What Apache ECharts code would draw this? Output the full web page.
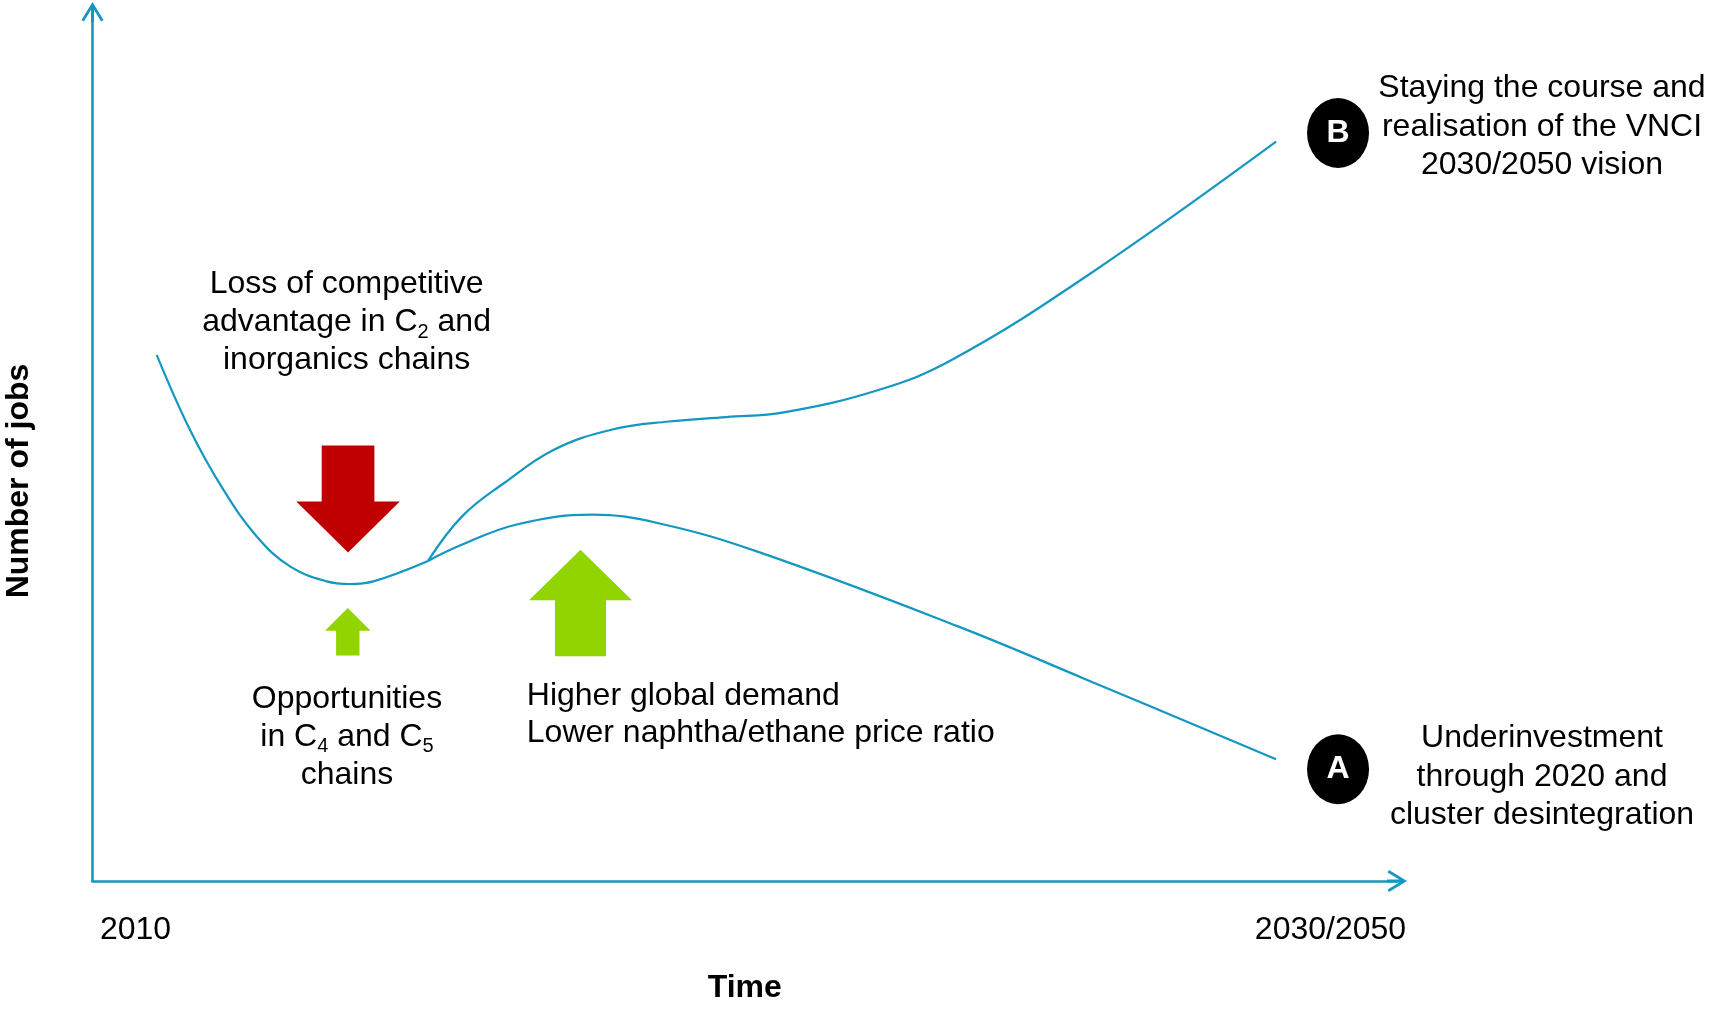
<!DOCTYPE html>
<html>
<head>
<meta charset="utf-8">
<script src="https://cdn.jsdelivr.net/npm/echarts@6/dist/echarts.min.js"></script>
<style>
html,body{margin:0;padding:0;background:#fff;}
#chart{width:1709px;height:1009px;}
</style>
</head>
<body>
<div id="chart"></div>
<script>
// ---- data (time on 0..100 scale, jobs on 0..100 scale) ----
const declinePoints = [
  [4.92, 60.55], [7.47, 51.93], [10.03, 45.03], [12.59, 39.65], [15.14, 36.20],
  [17.95, 34.48], [19.74, 34.18], [21.53, 34.48], [25.72, 36.83]
];
const scenarioA = [
  [25.72, 36.83], [28.04, 38.51], [32.44, 41.00], [38.31, 42.15], [43.30, 41.20],
  [50.92, 37.93], [66.30, 29.33], [76.16, 23.20], [90.73, 14.00]
];
const scenarioB = [
  [25.72, 36.83], [28.33, 41.96], [31.56, 45.80], [35.37, 49.63], [39.77, 51.93],
  [44.18, 52.88], [48.58, 53.39], [52.98, 53.92], [60.31, 56.53],
  [65.89, 59.98], [76.16, 69.56], [90.73, 85.08]
];
const tickValues = [3.30, 94.9];
const tickLabels = ['2010', '2030/2050'];
const arrowDownRed = [[19.59, 43.97]];
const arrowUpSmall = [[19.57, 28.69]];
const arrowUpLarge = [[37.41, 31.99]];
const scenarioMarkers = [[95.48, 86.08, 'B'], [95.48, 12.86, 'A']];

const BLUE = '#1497c1';
const FONT = "'Liberation Sans', Arial, sans-serif";
const chevron = 'path://M11,0 L22,18 L19.6,19.4 L12.5,7.7 L12.5,20 L9.5,20 L9.5,7.7 L2.4,19.4 L0,18 Z';

const chart = echarts.init(document.getElementById('chart'), null, {renderer: 'canvas'});

const rich = {
  n: {fontSize: 32, lineHeight: 38, fontFamily: FONT, color: '#000'},
  s: {fontSize: 20, lineHeight: 18, padding: [20, 0, 0, 0], fontFamily: FONT, color: '#000'}
};

function lineSeries(name, pts) {
  return {
    name: name, type: 'line', data: pts, smooth: 0.4, showSymbol: false, symbol: 'none',
    lineStyle: {color: BLUE, width: 2.2}, silent: true, z: 3
  };
}

const option = {
  backgroundColor: '#fff',
  animation: false,
  grid: {left: 92.5, right: 312, top: 12, bottom: 127.5, containLabel: false},
  xAxis: {
    type: 'value', min: 0, max: 100,
    axisLine: {show: true, lineStyle: {color: BLUE, width: 2.6}, symbol: ['none', chevron], symbolSize: [22, 20]},
    axisTick: {show: false},
    splitLine: {show: false},
    axisLabel: {
      show: true, customValues: tickValues, margin: 33,
      fontSize: 32, fontFamily: FONT, color: '#000',
      formatter: function (v) { const i = tickValues.indexOf(v); return i >= 0 ? tickLabels[i] : ''; }
    },
    name: 'Time', nameLocation: 'middle', nameGap: 91,
    nameTextStyle: {fontSize: 32, fontWeight: 'bold', fontFamily: FONT, color: '#000'}
  },
  yAxis: {
    type: 'value', min: 0, max: 100,
    axisLine: {show: true, lineStyle: {color: BLUE, width: 2.6}, symbol: ['none', chevron], symbolSize: [22, 20]},
    axisTick: {show: false},
    splitLine: {show: false},
    axisLabel: {show: false}
  },
  series: [
    lineSeries('Decline', declinePoints),
    lineSeries('A', scenarioA),
    lineSeries('B', scenarioB),
    {
      type: 'scatter', data: arrowDownRed, silent: true, z: 2,
      symbol: 'path://M25.4,0 L78.1,0 L78.1,56 L103.5,56 L51.75,107 L0,56 L25.4,56 Z',
      symbolSize: [103.5, 107], itemStyle: {color: '#c00000', opacity: 1}
    },
    {
      type: 'scatter', data: arrowUpSmall, silent: true, z: 2,
      symbol: 'path://M22.75,0 L45.5,22.7 L34.45,22.7 L34.45,47.4 L11.05,47.4 L11.05,22.7 L0,22.7 Z',
      symbolSize: [45.5, 47.4], itemStyle: {color: '#92d400', opacity: 1}
    },
    {
      type: 'scatter', data: arrowUpLarge, silent: true, z: 2,
      symbol: 'path://M51.5,0 L103,50.7 L77,50.7 L77,106.7 L26,106.7 L26,50.7 L0,50.7 Z',
      symbolSize: [103, 106.7], itemStyle: {color: '#92d400', opacity: 1}
    },
    {
      type: 'scatter', data: scenarioMarkers, silent: true, z: 4,
      symbol: 'circle', symbolSize: [62, 70], itemStyle: {color: '#000', opacity: 1},
      label: {
        show: true, position: 'inside', formatter: function (p) { return p.value[2]; },
        color: '#fff', fontSize: 32, fontWeight: 'bold', fontFamily: FONT
      }
    }
  ],
  graphic: [
    {
      type: 'text', x: 19.6, y: 481, rotation: Math.PI / 2,
      style: {text: 'Number of jobs', fontSize: 32, fontWeight: 'bold', fontFamily: FONT, fill: '#000', align: 'center', verticalAlign: 'middle'}
    },
    {
      type: 'text', x: 346.6, y: 322.5,
      style: {text: '{n|Loss of competitive}\n{n|advantage in C}{s|2}{n| and}\n{n|inorganics chains}', rich: rich, align: 'center', verticalAlign: 'middle'}
    },
    {
      type: 'text', x: 347, y: 736.7,
      style: {text: '{n|Opportunities}\n{n|in C}{s|4}{n| and C}{s|5}\n{n|chains}', rich: rich, align: 'center', verticalAlign: 'middle'}
    },
    {
      type: 'text', x: 526.8, y: 715,
      style: {text: 'Higher global demand\nLower naphtha/ethane price ratio', fontSize: 32, lineHeight: 37, fontFamily: FONT, fill: '#000', align: 'left', verticalAlign: 'middle'}
    },
    {
      type: 'text', x: 1542, y: 126.7,
      style: {text: 'Staying the course and\nrealisation of the VNCI\n2030/2050 vision', fontSize: 32, lineHeight: 38.3, fontFamily: FONT, fill: '#000', align: 'center', verticalAlign: 'middle'}
    },
    {
      type: 'text', x: 1542, y: 776.7,
      style: {text: 'Underinvestment\nthrough 2020 and\ncluster desintegration', fontSize: 32, lineHeight: 38.3, fontFamily: FONT, fill: '#000', align: 'center', verticalAlign: 'middle'}
    }
  ]
};
chart.setOption(option);
</script>
</body>
</html>
